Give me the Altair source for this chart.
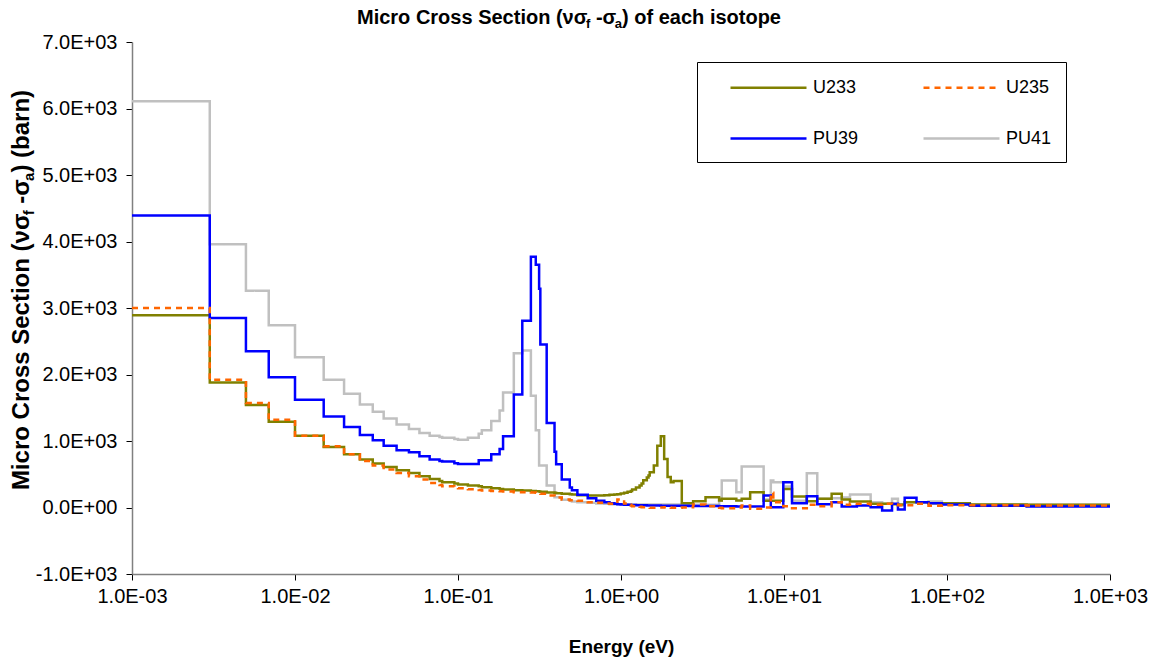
import altair as alt
import pandas as pd

# ---------------- data (group lower-edge energies, eV) ----------------
E = [0.001, 0.003, 0.005, 0.0069, 0.01, 0.015, 0.02, 0.025, 0.03, 0.035,
     0.042, 0.05, 0.058, 0.067, 0.077, 0.08, 0.095, 0.1, 0.115, 0.134,
     0.14, 0.16, 0.18, 0.189, 0.22, 0.248, 0.28, 0.3, 0.3145, 0.32,
     0.35, 0.391, 0.4, 0.433, 0.485, 0.5, 0.54, 0.625, 0.705, 0.79,
     0.85, 0.91, 0.95, 0.996, 1.045, 1.097, 1.15, 1.17, 1.235, 1.3,
     1.3375, 1.37, 1.44, 1.475, 1.5, 1.59, 1.67, 1.755, 1.84, 1.93,
     2.02, 2.1, 2.36, 2.6, 2.77, 3.3, 4.0, 4.15, 5.1, 5.5,
     6.2, 7.5, 8.3, 8.6, 9.9, 11.2, 13.8, 16.0, 19.6, 22.6,
     25.4, 28.0, 34.0, 40.0, 46.0, 50.0, 55.0, 65.0, 77.0, 93.0,
     138.0, 308.0, 1000.0]

U233 = [2890, 1880, 1540, 1290, 1080, 910, 800, 720, 660, 610,
        560, 520, 470, 430, 400, 380, 360, 345, 330, 320,
        305, 290, 280, 270, 260, 255, 250, 245, 240, 235,
        225, 220, 215, 205, 200, 195, 185, 180, 180, 185,
        190, 195, 200, 210, 220, 235, 250, 270, 300, 330,
        360, 410, 450, 480, 530, 630, 930, 1070, 730, 460,
        380, 400, 65, 65, 95, 155, 105, 130, 105, 130,
        230, 100, 100, 100, 280, 165, 95, 130, 205, 120,
        90, 90, 55, 55, 50, 45, 80, 80, 65, 65,
        45, 40, 40]

U235 = [3000, 1920, 1570, 1320, 1080, 920, 800, 700, 630, 570,
        520, 470, 420, 370, 340, 320, 300, 290, 275, 265,
        255, 250, 245, 240, 230, 228, 225, 220, 215, 205,
        180, 165, 150, 120, 110, 110, 100, 80, 70, 60,
        55, 60, 120, 120, 60, 40, 30, 20, 15, 10,
        5, 5, 0, 0, -5, -5, 0, 0, 5, 0,
        -5, -5, 0, 5, 45, 20, -5, -10, 0, 30,
        -20, 0, 220, 80, 20, -10, 40, 20, 80, 40,
        55, 55, 40, 55, 45, 35, 35, 55, 25, 35,
        35, 30, 30]

PU39 = [4390, 2850, 2350, 1960, 1620, 1370, 1210, 1090, 1010, 930,
        860, 830, 770, 720, 700, 690, 665, 655, 655, 710,
        710, 800, 880, 1070, 1700, 2810, 3770, 3650, 3290, 2450,
        1270, 840, 650, 420, 300, 260, 190, 140, 100, 80,
        65, 55, 50, 45, 42, 40, 38, 36, 35, 34,
        33, 32, 31, 30, 30, 30, 30, 28, 28, 27,
        26, 25, 25, 24, 23, 22, 20, 18, 16, 16,
        15, 180, 5, 5, 381, 65, 170, 50, 80, 15,
        15, 30, 5, -45, 55, -30, 145, 80, 65, 45,
        25, 15, 15]

PU41 = [6110, 3960, 3260, 2740, 2260, 1920, 1710, 1550, 1440, 1340,
        1250, 1180, 1120, 1080, 1060, 1050, 1030, 1020, 1050, 1110,
        1160, 1300, 1460, 1730, 2320, 2360, 1680, 1160, 630, 630,
        330, 155, 155, 115, 100, 90, 80, 70, 60, 55,
        50, 50, 50, 48, 48, 46, 46, 45, 45, 45,
        45, 45, 45, 45, 45, 45, 45, 45, 44, 44,
        44, 44, 43, 43, 43, 42, 100, 406, 230, 617,
        617, 120, 406, 380, 316, 100, 516, 130, 140, 150,
        195, 195, 80, 55, 130, 30, 80, 80, 90, 65,
        45, 40, 40]

# legend order (filled column by column): U233, PU39 | U235, PU41
SERIES = ["U233", "PU39", "U235", "PU41"]
COLORS = ["#808000", "#0000FF", "#FF6600", "#C0C0C0"]
DASHES = [[1, 0], [1, 0], [6, 5], [1, 0]]
WIDTHS = [2.5, 2.5, 2.5, 1.2]
X_TICKS = [0.001, 0.01, 0.1, 1, 10, 100, 1000]
Y_TICKS = [-1000, 0, 1000, 2000, 3000, 4000, 5000, 6000, 7000]

VALUES = {"U233": U233, "U235": U235, "PU39": PU39, "PU41": PU41}
for s in VALUES.values():
    assert len(s) == len(E), len(s)

rows = []
for name, vals in VALUES.items():
    for e, v in zip(E, vals):
        rows.append({"E": e, "V": v, "series": name})
df = pd.DataFrame(rows)

# ---------------- layout ----------------
PLOT_L, PLOT_T, PLOT_W, PLOT_H = 132, 42, 978, 532
FONT = "Liberation Sans"

# Arial / Liberation Sans Bold advance widths (per 1000 em)
WB = {" ": 278, "(": 333, ")": 333, "-": 333, "M": 833, "C": 722, "S": 667,
      "a": 556, "b": 611, "c": 556, "e": 556, "f": 333, "h": 611, "i": 278,
      "n": 611, "o": 611, "p": 611, "r": 389, "s": 556, "t": 333,
      "ν": 556, "σ": 615}


def tw(s, size):
    return sum(WB.get(ch, 556) for ch in s) * size / 1000.0


x_label = ("'1.0E' + (datum.value < 1 ? '-' : '+') + '0' + "
           "toString(abs(round(log(datum.value) / LN10)))")
y_label = ("datum.value == 0 ? '0.0E+00' : (datum.value < 0 ? '-' : '') + "
           "format(abs(datum.value) / 1000, '.1f') + 'E+03'")

x_enc = alt.X("E:Q",
              scale=alt.Scale(type="log", domain=[0.001, 1000], nice=False),
              axis=alt.Axis(values=X_TICKS, labelExpr=x_label, title="Energy (eV)",
                            grid=False, tickSize=6, tickColor="#000000",
                            domainColor="#808080", domainWidth=1.5,
                            labelFont=FONT, labelFontSize=20, labelColor="#000000",
                            labelPadding=6, labelFlush=False, labelOverlap=False,
                            titleFont=FONT, titleFontSize=19, titleFontWeight="bold",
                            titleColor="#000000", titlePadding=31))
y_enc = alt.Y("V:Q",
              scale=alt.Scale(domain=[-1000, 7000], nice=False, zero=False),
              axis=alt.Axis(values=Y_TICKS, labelExpr=y_label, title=None,
                            grid=False, tickSize=6, tickColor="#000000",
                            domainColor="#808080", domainWidth=1.5,
                            labelFont=FONT, labelFontSize=20, labelColor="#000000",
                            labelPadding=9, labelFlush=False, labelOverlap=False))

# wide horizontal stroke symbol: unit path spans sqrt(size)=20 -> 76 px long
legend = alt.Legend(orient="none", legendX=697 - PLOT_L, legendY=62 - PLOT_T,
                    columns=2, title=None, symbolType="M-3.8,0L3.8,0", symbolSize=400,
                    symbolFillColor="transparent",
                    labelFont=FONT, labelFontSize=18, labelColor="#000000",
                    padding=14, strokeColor="#000000", fillColor="#FFFFFF",
                    rowPadding=30, columnPadding=45, symbolOffset=46, labelOffset=33)

color_enc = alt.Color("series:N", scale=alt.Scale(domain=SERIES, range=COLORS), legend=legend)
dash_enc = alt.StrokeDash("series:N", scale=alt.Scale(domain=SERIES, range=DASHES), legend=legend)
width_enc = alt.StrokeWidth("series:N", scale=alt.Scale(domain=SERIES, range=WIDTHS), legend=legend)

base = alt.Chart(df).mark_line(interpolate="step-after", clip=True).encode(
    x=x_enc, y=y_enc, color=color_enc, strokeDash=dash_enc, strokeWidth=width_enc)

layers = [base.transform_filter(alt.datum.series == s) for s in ["PU41", "U233", "PU39", "U235"]]


def text_layer(s, x, y, size, angle=0):
    return alt.Chart(alt.Data(values=[{"k": 0}])).mark_text(
        align="left", baseline="alphabetic", font=FONT, fontWeight="bold",
        fontSize=size, angle=angle, color="#000000").encode(
        x=alt.value(x), y=alt.value(y), text=alt.value(s))


def rich_pieces(pieces, big, small):
    # returns (text, size, is_sub, offset along the text direction)
    out, pos = [], 0.0
    for txt, sub in pieces:
        size = small if sub else big
        lead = len(txt) - len(txt.lstrip(" "))
        shown = txt.lstrip(" ")
        out.append((shown, size, sub, pos + tw(" " * lead, size)))
        pos += tw(txt, size)
    return out, pos


# chart title (horizontal, with subscripts)
T_BIG, T_SMALL = 20, 13
title_pieces = [("Micro Cross Section (νσ", False), ("f", True), (" -σ", False),
                ("a", True), (") of each isotope", False)]
tp, ttot = rich_pieces(title_pieces, T_BIG, T_SMALL)
t_center = 569 - PLOT_L
t_base = 24 - PLOT_T
for txt, size, sub, off in tp:
    layers.append(text_layer(txt, t_center - ttot / 2 + off, t_base + (4 if sub else 0), size))

# y-axis title (rotated, with subscripts)
Y_BIG, Y_SMALL = 24, 15
ytitle_pieces = [("Micro Cross Section (νσ", False), ("f", True), (" -σ", False),
                 ("a", True), (") (barn)", False)]
yp, ytot = rich_pieces(ytitle_pieces, Y_BIG, Y_SMALL)
y_center = 290 - PLOT_T
y_basex = 29 - PLOT_L
for txt, size, sub, off in yp:
    layers.append(text_layer(txt, y_basex + (5 if sub else 0), y_center + ytot / 2 - off, size, angle=270))

chart = alt.layer(*layers).properties(
    width=PLOT_W, height=PLOT_H,
    padding={"left": PLOT_L, "top": PLOT_T, "right": 1157 - PLOT_L - PLOT_W,
             "bottom": 663 - PLOT_T - PLOT_H},
    autosize=alt.AutoSizeParams(type="none"),
    background="#FFFFFF",
).configure_view(stroke=None)

chart.save("out.html", embed_options={"renderer": "svg", "actions": False})
